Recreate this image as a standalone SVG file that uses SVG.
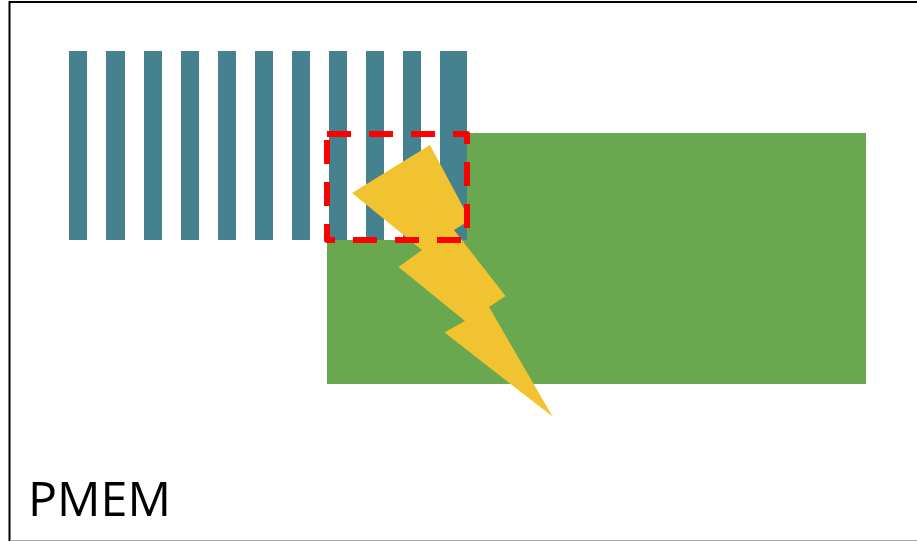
<svg xmlns="http://www.w3.org/2000/svg" width="917" height="541" viewBox="0 0 917 541">
<style>
.bar{fill:#46818F}
.label{font-family:"Open Sans","Noto Sans","Liberation Sans",sans-serif;font-size:48px;fill:#000}
</style>
<rect width="917" height="541" fill="#fff"/>
<path d="M9.5 541V2H917" fill="none" stroke="#000" stroke-width="2"/>
<path d="M10 540.5H917" fill="none" stroke="#a6a6a6" stroke-width="1"/>
<g id="pmem-bars">
<rect class="bar" x="69" y="51" width="18" height="189"/>
<rect class="bar" x="106" y="51" width="19" height="189"/>
<rect class="bar" x="144" y="51" width="18" height="189"/>
<rect class="bar" x="181" y="51" width="18" height="189"/>
<rect class="bar" x="218" y="51" width="18" height="189"/>
<rect class="bar" x="255" y="51" width="18" height="189"/>
<rect class="bar" x="292" y="51" width="18" height="189"/>
<rect class="bar" x="329" y="51" width="18" height="189"/>
<rect class="bar" x="366" y="51" width="18" height="189"/>
<rect class="bar" x="403" y="51" width="18" height="189"/>
<rect class="bar" x="440" y="51" width="27" height="189"/>
</g>
<g id="green-block"><path d="M467 133H866V384H327V240H467Z" fill="#6AA84F"/></g>
<g id="lightning"><polygon points="430,145 352,193 422,250 398.500,267 465,321 444.500,332.500 552.500,416.500 489,307 505.500,296 454,230 470,220" fill="#F2C331"/></g>
<g id="highlight"><rect x="327" y="134" width="140" height="106" fill="none" stroke="#f00" stroke-width="6" stroke-dasharray="24 18" stroke-linejoin="round"/></g>
<g id="caption"><text class="label" x="28" y="515.500" textLength="143" lengthAdjust="spacingAndGlyphs">PMEM</text></g>
</svg>
